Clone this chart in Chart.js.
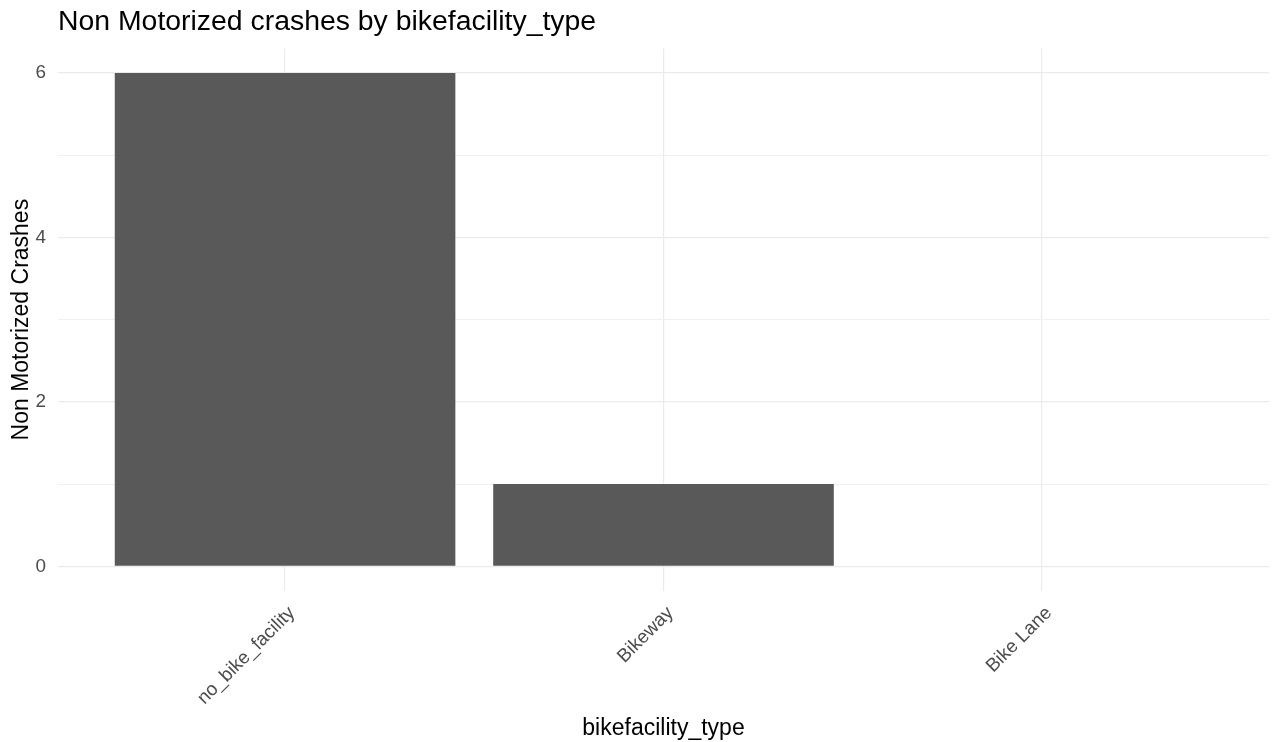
<!DOCTYPE html>
<html>
<head>
<meta charset="utf-8">
<script src="https://cdn.jsdelivr.net/npm/chart.js@4.4.1/dist/chart.umd.min.js"></script>
<style>
  html, body { margin: 0; padding: 0; background: #ffffff; }
  canvas { display: block; }
</style>
</head>
<body>
<canvas id="chart" width="1282" height="742"></canvas>
<script>
const categories = ["no_bike_facility", "Bikeway", "Bike Lane"];
const crashes = [6, 1, 0];
const yTicks = [0, 1, 2, 3, 4, 5, 6];
const yLabelTicks = [0, 2, 4, 6];
const chartTitle = "Non Motorized crashes by bikefacility_type";
const xTitle = "bikefacility_type";
const yTitle = "Non Motorized Crashes";

const FONT = "'Liberation Sans', Arial, sans-serif";

new Chart(document.getElementById('chart'), {
  type: 'bar',
  data: {
    datasets: [{
      data: categories.map((c, i) => ({ x: i, y: crashes[i] })),
      backgroundColor: '#595959',
      borderWidth: 0,
      barPercentage: 0.9,
      categoryPercentage: 1.0
    }]
  },
  options: {
    responsive: false,
    animation: false,
    events: [],
    layout: { padding: { left: 0, right: 13, top: 0, bottom: 0 } },
    plugins: {
      legend: { display: false },
      tooltip: { enabled: false },
      title: {
        display: true,
        text: chartTitle,
        align: 'start',
        fullSize: false,
        color: '#000000',
        font: { family: FONT, size: 28.4, weight: 'normal' },
        padding: { top: 5.2, bottom: 9.0 }
      }
    },
    scales: {
      x: {
        type: 'linear',
        min: -0.6,
        max: 2.6,
        offset: false,
        afterBuildTicks: s => { s.ticks = categories.map((c, i) => ({ value: i })); },
        afterFit: s => { s.height = 151; },
        grid: { color: '#ebebeb', lineWidth: 1.2, drawTicks: false, offset: false },
        border: { display: false },
        ticks: {
          autoSkip: false,
          minRotation: 45,
          maxRotation: 45,
          padding: 11,
          labelOffset: 7,
          color: '#4d4d4d',
          font: { family: FONT, size: 18.9 },
          callback: v => categories[v] ?? ''
        },
        title: {
          display: true,
          text: xTitle,
          color: '#000000',
          font: { family: FONT, size: 23 },
          padding: { top: 0, bottom: 0 }
        }
      },
      y: {
        type: 'linear',
        min: -0.3,
        max: 6.3,
        afterBuildTicks: s => { s.ticks = yTicks.map(v => ({ value: v })); },
        afterFit: s => { s.width = 58; },
        grid: {
          drawTicks: false,
          color: ctx => (yLabelTicks.includes(ctx.tick.value) ? '#ebebeb' : '#f0f0f0'),
          lineWidth: ctx => (yLabelTicks.includes(ctx.tick.value) ? 1.2 : 1)
        },
        border: { display: false },
        ticks: {
          padding: 12,
          color: '#4d4d4d',
          font: { family: FONT, size: 18.9 },
          callback: v => (yLabelTicks.includes(v) ? String(v) : '')
        },
        title: {
          display: true,
          text: yTitle,
          color: '#000000',
          font: { family: FONT, size: 23 },
          padding: { top: 7.6, bottom: 0 }
        }
      }
    }
  }
});
</script>
</body>
</html>
